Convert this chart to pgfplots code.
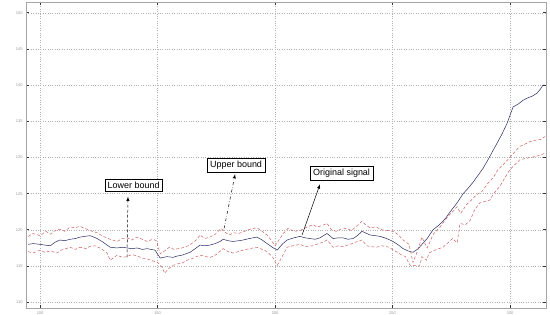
\documentclass[border=0pt]{standalone}
\usepackage{pgfplots}
\pgfplotsset{compat=1.18}
\usepackage{fontspec}
\setmainfont{Liberation Sans}
\definecolor{sig}{RGB}{40,40,100}
\definecolor{bnd}{RGB}{205,95,95}
\begin{document}
\begin{tikzpicture}
\begin{axis}[
  scale only axis, width=520bp, height=306bp,
  xmin=94, xmax=315.3, ymin=109.2, ymax=151.5,
  xtick={100,150,200,250,300},
  ytick={110,115,...,150},
  grid=major,
  major grid style={gray!60, dotted, line width=0.5pt},
  tick label style={font=\fontsize{4}{4}\selectfont, text=gray!80},
  /pgf/number format/assume math mode=true,
  axis line style={gray!70},
  tick style={black!80, line width=0.8pt},
  major tick length=3pt,
  tick align=inside,
  clip=true,
]
% original signal
\addplot[sig, line width=0.5pt] coordinates {
(94.9,118.0)(97.0,118.1)(100.0,118.0)(102.0,117.9)(104.3,117.8)(106.4,118.3)(108.5,118.6)(110.5,118.5)(112.8,118.7)(115.0,118.8)(117.0,119.0)(119.0,119.1)(121.3,119.2)(124.3,118.8)(126.8,118.3)(128.5,117.9)(129.8,117.6)(132.8,117.5)(135.0,117.6)(137.0,117.5)(139.0,117.4)(141.3,117.5)(143.5,117.3)(145.5,117.4)(148.9,117.2)(151.1,116.1)(154.0,116.3)(156.6,116.2)(158.5,116.4)(160.4,116.5)(163.8,116.9)(166.0,117.4)(168.1,117.9)(170.0,117.8)(172.3,117.9)(174.5,118.1)(176.6,118.4)(177.9,118.7)(180.0,118.5)(182.1,118.4)(184.5,118.5)(186.4,118.6)(189.0,118.8)(192.3,119.0)(194.5,118.6)(196.6,118.1)(198.8,117.6)(200.9,117.2)(203.0,118.0)(205.1,118.6)(208.0,118.9)(210.6,119.1)(212.8,118.9)(214.9,118.8)(217.0,118.7)(219.1,118.9)(222.1,119.5)(224.7,118.8)(226.8,118.9)(228.9,118.9)(231.0,118.7)(233.2,118.8)(235.0,119.2)(237.0,119.8)(240.4,119.3)(242.5,119.2)(244.7,119.1)(247.5,118.8)(250.2,118.4)(252.5,117.9)(254.5,117.4)(256.5,117.1)(258.7,116.9)(260.9,117.4)(262.8,118.1)(264.7,118.8)(267.2,120.0)(269.5,120.6)(271.5,121.2)(273.0,121.8)(274.5,122.5)(277.4,123.7)(280.0,125.0)(282.0,125.7)(284.3,126.6)(286.5,127.6)(288.5,128.5)(290.8,129.8)(292.8,131.0)(294.5,132.0)(296.5,133.2)(298.7,134.7)(301.3,137.0)(303.5,137.4)(305.5,137.9)(307.2,138.2)(309.5,138.5)(311.5,138.9)(313.0,139.5)(314.0,140.0)(314.9,140.0)
};
% upper bound
\addplot[bnd, line width=0.5pt, densely dashed] coordinates {
(94.9,119.1)(97.0,119.5)(100.0,119.2)(102.5,119.8)(104.3,119.4)(106.4,119.9)(108.5,120.1)(110.5,119.8)(112.8,120.4)(115.0,120.3)(117.0,120.5)(119.0,120.2)(121.3,119.9)(124.3,119.6)(126.8,119.1)(129.8,118.7)(132.8,118.4)(135.0,118.8)(137.0,118.9)(139.0,118.6)(141.3,119.0)(143.5,118.7)(145.5,118.4)(148.0,118.7)(149.5,118.5)(151.1,116.7)(153.0,117.1)(155.0,117.6)(157.0,117.3)(160.4,117.5)(163.0,117.8)(164.5,118.1)(166.5,118.6)(168.1,119.3)(170.0,118.8)(172.3,119.0)(174.5,119.4)(177.0,120.2)(179.0,119.6)(180.5,119.3)(182.5,119.6)(184.5,119.5)(187.0,119.8)(189.5,120.1)(192.3,120.3)(194.5,119.8)(196.6,119.3)(198.5,118.5)(200.0,117.8)(201.5,118.5)(203.5,119.5)(205.5,120.2)(208.0,119.8)(210.6,119.9)(213.0,120.3)(216.0,120.7)(218.0,120.4)(220.0,120.6)(222.1,120.9)(224.0,120.0)(226.0,119.8)(228.0,120.1)(230.5,120.2)(232.5,119.9)(235.0,120.6)(237.0,121.2)(238.5,120.7)(240.4,120.3)(243.0,120.4)(245.5,120.0)(248.0,119.9)(250.5,119.8)(252.5,119.3)(254.5,118.6)(257.0,118.0)(258.7,115.5)(260.5,117.0)(262.5,119.0)(264.7,117.5)(267.5,119.5)(270.0,120.3)(271.5,121.0)(274.0,122.0)(275.5,122.5)(277.4,123.2)(279.0,122.3)(281.5,123.5)(283.5,124.1)(285.5,124.8)(288.0,125.3)(290.5,126.4)(293.0,127.3)(294.8,128.3)(297.0,129.0)(299.0,129.7)(301.5,130.6)(304.0,131.5)(306.0,131.8)(308.5,132.2)(311.0,132.4)(313.0,132.5)(314.9,132.9)
};
% lower bound
\addplot[bnd, line width=0.5pt, densely dashed] coordinates {
(94.9,117.0)(97.0,116.8)(100.0,117.2)(102.0,116.9)(104.5,117.1)(107.2,116.8)(109.0,117.2)(112.8,117.6)(115.0,117.3)(117.0,117.6)(119.8,117.4)(121.0,117.7)(123.5,117.8)(126.0,117.4)(128.5,116.8)(129.8,115.8)(131.5,116.2)(132.8,116.5)(135.0,116.2)(137.0,116.3)(139.0,116.6)(141.3,116.4)(143.5,116.1)(145.5,116.0)(148.0,115.7)(150.0,115.5)(152.0,114.8)(153.0,114.0)(154.5,114.6)(156.6,115.1)(158.5,115.3)(160.4,115.4)(162.5,115.8)(164.5,116.0)(166.5,116.3)(168.5,116.5)(170.5,116.3)(172.5,116.2)(175.0,116.6)(177.9,117.4)(180.0,117.0)(182.1,116.8)(184.5,117.0)(186.4,117.2)(189.0,117.4)(192.3,117.6)(194.5,117.3)(196.6,117.0)(199.0,116.2)(200.9,115.1)(202.5,116.0)(205.1,117.6)(207.5,117.8)(210.6,118.0)(212.8,117.7)(216.0,117.8)(218.5,118.1)(220.5,118.3)(222.1,118.6)(224.7,117.6)(226.8,117.8)(228.9,117.7)(231.0,117.9)(233.5,118.2)(235.0,118.4)(237.0,118.6)(239.0,117.8)(240.4,117.7)(243.0,117.6)(245.5,117.8)(248.5,117.6)(251.5,117.0)(253.5,116.6)(255.5,116.3)(257.5,115.1)(259.5,115.1)(261.5,115.0)(262.5,116.3)(264.5,115.8)(265.5,116.8)(268.0,117.2)(271.5,117.6)(273.5,118.2)(275.5,118.8)(277.5,118.2)(278.7,120.9)(281.0,120.7)(283.0,121.3)(285.0,122.8)(287.0,123.7)(289.0,123.9)(291.3,124.1)(293.5,125.2)(295.6,126.0)(297.8,127.2)(299.9,128.3)(302.0,129.0)(304.2,129.7)(307.0,129.9)(310.0,130.1)(312.5,130.3)(314.9,130.6)
};
% annotations
\node[draw=black, fill=white, inner sep=3pt, font=\fontsize{9}{10}\selectfont, line width=0.4pt] at (axis cs:139.8,126.2) {Lower bound};
\draw[-latex, densely dashed, line width=0.5pt] (axis cs:137.0,116.2) -- (axis cs:137.4,124.6);
\node[draw=black, fill=white, inner sep=3pt, font=\fontsize{9}{10}\selectfont, line width=0.4pt] at (axis cs:183.4,128.9) {Upper bound};
\draw[-latex, dash dot, line width=0.5pt] (axis cs:178.3,120.2) -- (axis cs:183.0,127.7);
\node[draw=black, fill=white, inner sep=3pt, font=\fontsize{9}{10}\selectfont, line width=0.4pt] at (axis cs:228.3,127.8) {Original signal};
\draw[-latex, line width=0.5pt] (axis cs:211.5,119.3) -- (axis cs:219.1,126.3);
\end{axis}
\pgfresetboundingbox
\path (-26bp,-7bp) rectangle (524bp,308bp);
\end{tikzpicture}
\end{document}
